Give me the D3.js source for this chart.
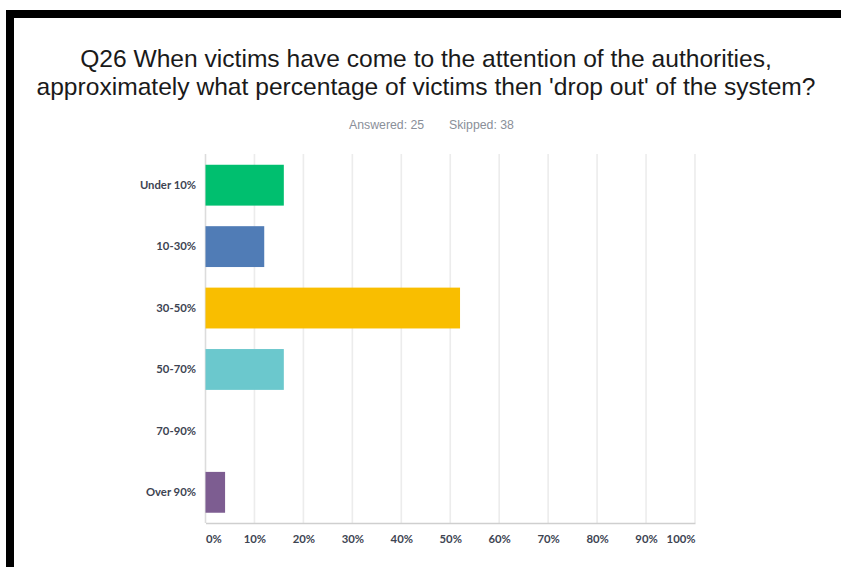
<!DOCTYPE html>
<html>
<head>
<meta charset="utf-8">
<script src="https://cdn.jsdelivr.net/npm/d3@7"></script>
<style>
  html, body { margin: 0; padding: 0; background: #ffffff; }
  svg { display: block; }
</style>
</head>
<body>
<svg id="chart" width="841" height="567"></svg>
<script>
// Survey responses, Q26 (percent of respondents)
const categories = ["Under 10%", "10-30%", "30-50%", "50-70%", "70-90%", "Over 90%"];
const values = [16, 12, 52, 16, 0, 4];
const barColors = ["#00bf6f", "#507cb6", "#f9be00", "#6bc8cd", "#a6b2c4", "#7d5d91"];
const tickValues = [0, 10, 20, 30, 40, 50, 60, 70, 80, 90, 100];
const titleLines = [
  "Q26 When victims have come to the attention of the authorities,",
  "approximately what percentage of victims then 'drop out' of the system?"
];
const answered = 25;
const skipped = 38;

const svg = d3.select("#chart");

// frame
svg.append("rect").attr("x", 6).attr("y", 10).attr("width", 835).attr("height", 8).attr("fill", "#000");
svg.append("rect").attr("x", 6).attr("y", 10).attr("width", 8).attr("height", 557).attr("fill", "#000");

// title
svg.append("g").selectAll("text").data(titleLines).join("text")
  .attr("x", 426)
  .attr("y", (d, i) => 66.5 + i * 28.5)
  .attr("text-anchor", "middle")
  .attr("font-family", "'Liberation Sans', Arial, sans-serif")
  .attr("font-size", 24.6)
  .attr("fill", "#1a1a1a")
  .text(d => d);

// response counts
const sub = svg.append("g")
  .attr("font-family", "'Liberation Sans', Arial, sans-serif")
  .attr("font-size", 12.3)
  .attr("fill", "#8a8f99");
sub.append("text").attr("x", 349).attr("y", 129).text(`Answered: ${answered}`);
sub.append("text").attr("x", 449).attr("y", 129).text(`Skipped: ${skipped}`);

// scales
const x = d3.scaleLinear().domain([0, 100]).range([205.5, 695]);
const y = d3.scaleBand().domain(categories).range([154.5, 523]).paddingInner(0.335).paddingOuter(0.167);

// gridlines
svg.append("g").selectAll("line").data(tickValues).join("line")
  .attr("x1", d => x(d)).attr("x2", d => x(d))
  .attr("y1", 154).attr("y2", 523)
  .attr("stroke", d => d === 0 ? "#dcdcdc" : "#ececec")
  .attr("stroke-width", 1.6);

// bars
svg.append("g").selectAll("rect").data(categories).join("rect")
  .attr("x", x(0))
  .attr("y", d => y(d))
  .attr("width", (d, i) => x(values[i]) - x(0))
  .attr("height", y.bandwidth())
  .attr("fill", (d, i) => barColors[i]);

const labelFont = "Lato, 'Open Sans', sans-serif";
const labelColor = "#3d4452";

// x axis
const xAxis = svg.append("g")
  .attr("transform", "translate(0,523)")
  .call(d3.axisBottom(x).tickValues(tickValues).tickFormat(d => d + "%").tickSize(0).tickPadding(12));
xAxis.select(".domain").attr("stroke", "#cfcfcf").attr("stroke-width", 1.6);
xAxis.selectAll("text")
  .attr("font-family", labelFont)
  .attr("font-weight", "bold")
  .attr("font-size", 11.3)
  .attr("fill", labelColor)
  .attr("text-anchor", d => d === 0 ? "start" : d === 100 ? "end" : "middle");

// y axis labels
const yAxis = svg.append("g")
  .attr("transform", `translate(${x(0)},0)`)
  .call(d3.axisLeft(y).tickSize(0).tickPadding(9.5));
yAxis.select(".domain").remove();
yAxis.selectAll("text")
  .attr("font-family", labelFont)
  .attr("font-weight", "bold")
  .attr("font-size", 11.3)
  .attr("fill", labelColor);
</script>
</body>
</html>
